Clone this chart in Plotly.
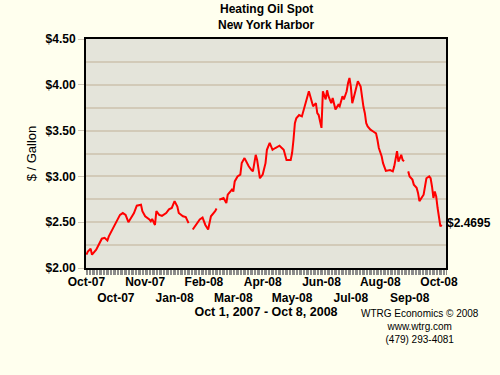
import plotly.graph_objects as go

# Trading-day index (0 = Oct 1, 2007) and spot price ($/gallon); None = gap in data
trading_day = [0, 1, 3, 4, 7, 9, 11, 13, 15, 16, 19, 20, 21, 22, 24, 26, 28, 30, 32, 34,
               36, 39, 40, 42, 45, 46, 47, 49, 50, 52, 54, 57, 59, 61, 63, 65, 66, 69, 71, 73,
               74, 76, 79, 81, 83, 85, 87, 89, 92, 93, 94, 95, 98, 100, 101, 104, 105, 106, 108, 110,
               111, 113, 114, 116, 118, 119, 121, 122, 124, 126, 128, 129, 131, 133, 135, 138, 141, 143, 146, 147,
               148, 149, 150, 152, 154, 155, 157, 159, 160, 162, 164, 165, 166, 168, 169, 171, 172, 173, 175, 176,
               178, 180, 181, 183, 184, 186, 187, 188, 189, 190, 191, 193, 194, 196, 197, 198, 199, 200, 201, 203,
               205, 207, 208, 209, 211, 212, 214, 217, 219, 220, 222, 223, 225, 226, 227, 228, 230, 231, 233, 234,
               236, 237, 238, 240, 241, 242, 243, 245, 246, 247, 248, 249, 250, 251, 252, 253, 254]
price = [2.145, 2.18, 2.21, 2.145, 2.20, 2.27, 2.32, 2.33, 2.30, 2.345, 2.44, 2.455, 2.49, 2.53, 2.58, 2.60, 2.58, 2.50, 2.545, 2.60,
         2.68, 2.69, 2.62, 2.565, 2.53, 2.51, 2.535, 2.47, 2.62, 2.58, 2.57, 2.60, 2.64, 2.655, 2.73, 2.67, 2.60, 2.565, 2.555, 2.49,
         None, 2.42, 2.48, 2.53, 2.55, 2.47, 2.42, 2.565, 2.62, 2.65, None, 2.745, 2.765, 2.71, 2.80, 2.855, 2.835, 2.945, 3.00, 3.02,
         3.145, 3.20, 3.165, 3.11, 3.07, 3.055, 3.235, 3.18, 2.98, 3.02, 3.145, 3.29, 3.365, 3.29, 3.31, 3.335, 3.29, 3.18, 3.18, 3.255,
         3.40, 3.58, 3.635, 3.67, 3.655, 3.71, 3.80, 3.93, 3.875, 3.765, 3.80, 3.69, 3.67, 3.53, 3.93, 3.84, 3.94, 3.875, 3.80, 3.855,
         3.73, 3.78, 3.765, 3.875, 3.84, 3.93, 4.02, 4.075, 3.98, 3.80, 3.855, 4.00, 4.04, 3.98, 3.84, 3.76, 3.69, 3.58, 3.545, 3.51,
         3.49, 3.47, 3.40, 3.31, 3.22, 3.145, 3.06, 3.07, 3.055, 3.11, 3.275, 3.16, 3.235, 3.18, 3.165, None, 3.055, 3.00, 2.965, 2.91,
         2.875, 2.82, 2.73, 2.78, 2.80, 2.89, 2.98, 3.00, 2.98, 2.89, 2.765, 2.835, 2.78, 2.655, 2.545, 2.455, 2.4695]

tick_positions = [0, 21, 42, 63, 84, 105, 126, 147, 168, 189, 210, 231, 252]
tick_labels = ["Oct-07", "Oct-07", "Nov-07", "Jan-08", "Feb-08", "Mar-08", "Apr-08",
               "May-08", "Jun-08", "Jul-08", "Aug-08", "Sep-08", "Oct-08"]
y_ticks = [2.00, 2.50, 3.00, 3.50, 4.00, 4.50]
y_tick_labels = ["$2.00", "$2.50", "$3.00", "$3.50", "$4.00", "$4.50"]

last_price_label = "$2.4695"

FONT = "Liberation Sans, Arial, sans-serif"
BG = "#FFFFEE"

# alternate labels on two rows
tick_text = [lab if i % 2 == 0 else "<br>" + lab for i, lab in enumerate(tick_labels)]

fig = go.Figure()
fig.add_trace(go.Scatter(
    x=trading_day, y=price, mode="lines",
    line=dict(color="#FF0000", width=2),
    connectgaps=False, hoverinfo="skip", showlegend=False,
))

fig.update_layout(
    width=500, height=375,
    margin=dict(l=86, r=54, t=39, b=107, autoexpand=False),
    paper_bgcolor=BG,
    plot_bgcolor="#E4E4DA",
    font=dict(family=FONT, color="#000000"),
    showlegend=False,
)

fig.update_xaxes(
    range=[-0.3, 257],
    tickmode="array", tickvals=tick_positions, ticktext=tick_text,
    tickangle=0, automargin=False,
    tickfont=dict(family=FONT, size=12, weight="bold", color="#000000"),
    ticks="outside", ticklen=2, tickcolor="#808080", tickwidth=1,
    minor=dict(ticks="outside", ticklen=5, dtick=1, tickcolor="#8C8C8C", tickwidth=1),
    showgrid=False, zeroline=False,
    showline=True, linecolor="#000000", linewidth=2, mirror=True,
    title=dict(text="Oct 1, 2007 - Oct 8, 2008", standoff=0,
               font=dict(family=FONT, size=12.5, weight="bold", color="#000000")),
)

fig.update_yaxes(
    range=[2.0, 4.5], automargin=False,
    tickmode="array", tickvals=y_ticks, ticktext=y_tick_labels,
    tickfont=dict(family=FONT, size=12, weight="bold", color="#000000"),
    ticks="outside", ticklen=6, tickcolor="#D0C8B8",
    showgrid=True, gridcolor="#D2CAB8", gridwidth=2,
    minor=dict(dtick=0.25, showgrid=True, gridcolor="#D2CAB8", gridwidth=2),
    zeroline=False,
    showline=True, linecolor="#000000", linewidth=2, mirror=True,
    title=dict(text="$ / Gallon", standoff=6,
               font=dict(family=FONT, size=13, color="#000000")),
)

# Title (two lines)
fig.add_annotation(text="<b>Heating Oil Spot</b>", xref="paper", yref="paper",
                   x=0.5, y=1, yshift=39, xanchor="center", yanchor="top", showarrow=False,
                   font=dict(family=FONT, size=12, color="#000000"))
fig.add_annotation(text="<b>New York Harbor</b>", xref="paper", yref="paper",
                   x=0.5, y=1, yshift=23, xanchor="center", yanchor="top", showarrow=False,
                   font=dict(family=FONT, size=12, color="#000000"))

# last value label
fig.add_annotation(text="<b>" + last_price_label + "</b>", xref="paper", yref="y",
                   x=1, y=price[-1], xanchor="left", yanchor="middle", xshift=-1, yshift=2,
                   showarrow=False, font=dict(family=FONT, size=12, color="#000000"))

# source
fig.add_annotation(text="WTRG Economics © 2008<br>www.wtrg.com<br>(479) 293-4081",
                   xref="paper", yref="paper", x=0.928, y=0, yshift=-38,
                   xanchor="center", yanchor="top", showarrow=False, align="center",
                   font=dict(family=FONT, size=10, color="#000000"))

fig.write_html(
    "out.html",
    config={"displayModeBar": False, "staticPlot": True},
    post_script="document.body.style.margin='0';document.body.style.background='%s';" % BG,
)
